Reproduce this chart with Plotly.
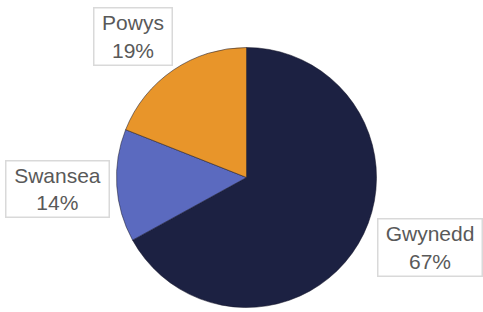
import plotly.graph_objects as go

labels = ["Gwynedd", "Swansea", "Powys"]
values = [67, 14, 19]
colors = ["#1c2142", "#5b6abf", "#e8952a"]

W, H = 483, 312
cx, cy, r = 246.5, 177.5, 130

fig = go.Figure(go.Pie(
    labels=labels,
    values=values,
    sort=False,
    direction="clockwise",
    rotation=0,
    textinfo="none",
    hoverinfo="label+percent",
    marker=dict(colors=colors, line=dict(color="rgba(20,20,40,0.7)", width=0.75)),
    domain=dict(x=[(cx - r) / W, (cx + r) / W], y=[1 - (cy + r) / H, 1 - (cy - r) / H]),
    showlegend=False,
))

# label box placement (pixel centres and box sizes)
boxes = {
    "Gwynedd": (429.5, 248, 101, 54),
    "Swansea": (57, 189.5, 100, 53),
    "Powys": (132.5, 36, 75, 54),
}
total = sum(values)
for lab, val in zip(labels, values):
    bx, by, bw, bh = boxes[lab]
    fig.add_annotation(
        x=bx / W, y=1 - by / H, xref="paper", yref="paper",
        xanchor="center", yanchor="middle",
        text=f"{lab}<br>{round(val / total * 100)}%",
        showarrow=False,
        font=dict(family="Liberation Sans, Arial, sans-serif", size=21, color="#595959"),
        bordercolor="#d9d9d9", borderwidth=1.5, borderpad=1,
        bgcolor="white", width=bw, height=bh, align="center",
    )

fig.update_layout(
    width=W, height=H,
    margin=dict(l=0, r=0, t=0, b=0),
    paper_bgcolor="white", plot_bgcolor="white",
)
fig.write_html(
    "out.html",
    config={"displayModeBar": False},
    post_script="document.body.style.margin='0';document.body.style.overflow='hidden';",
)
